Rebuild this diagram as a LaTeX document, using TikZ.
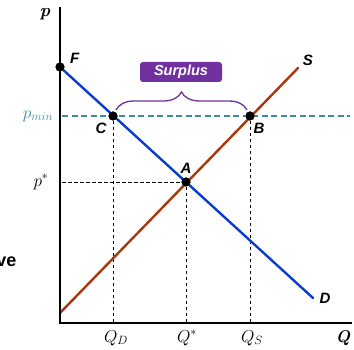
\documentclass[tikz,border=0pt]{standalone}
\usepackage{fontspec}
\setsansfont{Liberation Sans}
\usetikzlibrary{arrows.meta,positioning,calc,decorations.pathreplacing}
\definecolor{pfblue}{HTML}{0A3CD2}
\definecolor{pfbrown}{HTML}{A8380C}
\definecolor{pfteal}{HTML}{3A8C9E}
\definecolor{pfpurple}{HTML}{7030A0}

\begin{document}
\begin{tikzpicture}[
  x=1pt, y=-1pt,
  axis/.style={line width=2.6pt, black},
  demand/.style={line width=2.4pt, pfblue, line cap=round},
  supply/.style={line width=2.4pt, pfbrown, line cap=round},
  guide/.style={line width=0.9pt, black, dash pattern=on 3.5pt off 2.5pt},
  floor/.style={line width=1.3pt, pfteal, dash pattern=on 6pt off 3.5pt},
  pt/.style={circle, fill=black, inner sep=0pt, minimum size=9pt},
  lbl/.style={font=\fontsize{15}{17}\selectfont\sffamily\bfseries\itshape},
  qlbl/.style={font=\fontsize{17}{19}\selectfont},
  tag/.style={fill=pfpurple, rounded corners=3pt, text=white, minimum width=82pt,
              minimum height=20pt, inner sep=0pt, font=\fontsize{14.5}{16}\selectfont\sffamily\bfseries\itshape},
]
\useasboundingbox (0,0) rectangle (354,350);

% ---- axes ----
\coordinate (O) at (60,323);
\coordinate (ytop) at (60,7);
\coordinate (xend) at (352,323);

% ---- curve ends ----
\coordinate (Dend) at (313,298);
\coordinate (Sbeg) at (60,313);
\coordinate (Send) at (298,68);

% ---- points ----
\node[pt] (F) at (60,67) {};
\node[pt] (C) at (113,116) {};
\node[pt] (A) at (186,182) {};
\node[pt] (B) at (250,116) {};

% ---- axis feet ----
\coordinate (QDa) at (113,323);
\coordinate (QEa) at (186,323);
\coordinate (QSa) at (250,323);
\coordinate (Pa) at (62,182);
\coordinate (PMa) at (62,116);
\coordinate (PMe) at (350,116);

% ---- guides ----
\draw[floor] (PMa) -- (PMe);
\draw[guide] (Pa) -- (A);
\draw[guide] (C) -- (QDa);
\draw[guide] (A) -- (QEa);
\draw[guide] (B) -- (QSa);

% ---- curves ----
\draw[supply] (Sbeg) -- (Send);
\draw[demand] (F) -- (Dend);
\node[pt] at (F) {};
\node[pt] at (C) {};
\node[pt] at (A) {};
\node[pt] at (B) {};

\draw[axis] (ytop) -- (O) -- (xend);

% ---- surplus ----
\draw[pfpurple, line width=1.3pt, decorate,
      decoration={brace, amplitude=18pt}] ($(C)+(3,-6)$) -- ($(B)+(-3,-6)$);
\node[tag] (surplus) at (181,72) {Surplus};

% ---- labels ----
\node[font=\fontsize{18}{20}\selectfont\bfseries\itshape] (plab) at (45,14) {p};
\node[lbl, right=2pt of F, yshift=9pt] (Flab) {F};
\node[lbl] (Clab) at (101,128) {C};
\node[lbl] (Blab) at (259,128) {B};
\node[lbl] (Alab) at (186,168) {A};
\node[lbl] (Slab) at (308,60) {S};
\node[lbl] (Dlab) at (325,298) {D};
\node[qlbl, text=pfteal] (pmin) at (38,116) {$p_{min}$};
\node[qlbl] (pstar) at (41,182) {$p^{*}$};
\node[qlbl] (QD) at (116,338) {$Q_D$};
\node[qlbl] (Qstar) at (187,338) {$Q^{*}$};
\node[qlbl] (QS) at (252,338) {$Q_S$};
\node[font=\fontsize{17}{19}\selectfont\bfseries\itshape] (Qlab) at (343,338) {Q};
\node[font=\fontsize{18}{20}\selectfont\sffamily\bfseries, anchor=east] (ve) at (20,262) {ve};

\end{tikzpicture}
\end{document}
